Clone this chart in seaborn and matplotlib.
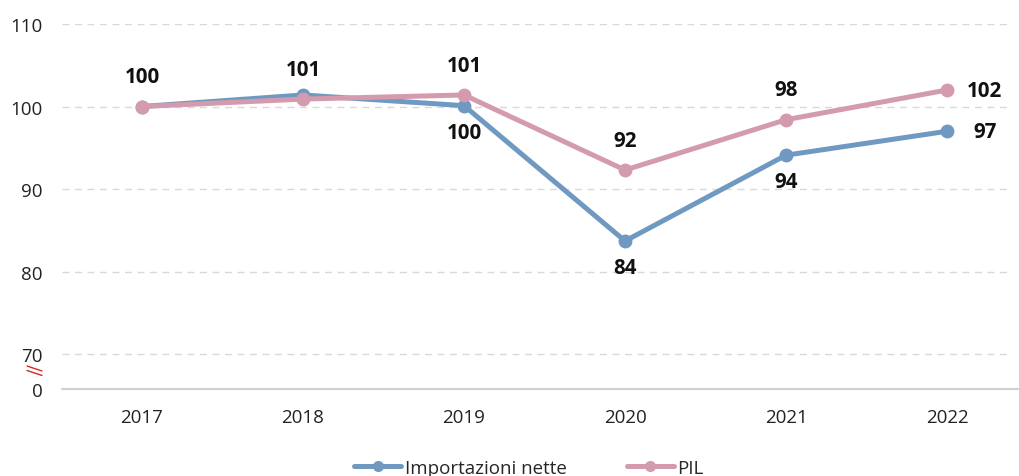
import pandas as pd
import matplotlib.pyplot as plt
import seaborn as sns

years = [2017, 2018, 2019, 2020, 2021, 2022]
importazioni = [100.0, 101.4, 100.1, 83.7, 94.1, 97.0]
pil = [100.0, 100.9, 101.4, 92.3, 98.4, 102.0]
series_names = ['Importazioni nette', 'PIL']
colors = {'Importazioni nette': '#7099c2', 'PIL': '#d39bad'}

y_ticks = [70, 80, 90, 100, 110]
y_zero = 65.76  # where the broken axis shows "0"

df = pd.DataFrame({
    'anno': years * 2,
    'valore': importazioni + pil,
    'serie': [series_names[0]] * len(years) + [series_names[1]] * len(years),
})

sns.set_style('white')
plt.rcParams['font.family'] = ['Open Sans', 'DejaVu Sans']

fig = plt.figure(figsize=(10.2, 4.77), dpi=100)
ax = fig.add_axes([62 / 1020, 87 / 477, 1 - 62 / 1020, (390 - 25) / 477])

# Grid lines
for t in y_ticks:
    ax.axhline(t, xmin=0, xmax=(1008 - 62) / (1020 - 62), color='#d9d9d9',
               lw=1, ls=(0, (5, 4)), zorder=0)
ax.axhline(y_zero, color='#d0d0d0', lw=1.5, zorder=1, clip_on=False)

sns.lineplot(data=df, x='anno', y='valore', hue='serie', palette=colors,
             marker='o', markersize=10, markeredgewidth=0, linewidth=3.6,
             ax=ax, legend=False, zorder=3)

# Data labels
lbl = dict(ha='center', va='center', fontsize=14.8, fontweight='bold', color='#111111')
for i, (yr, v) in enumerate(zip(years, pil)):
    if i == len(years) - 1:
        ax.annotate(f'{v:.0f}', (yr, v), xytext=(27, 0), textcoords='offset points', **lbl)
    else:
        ax.annotate(f'{v:.0f}', (yr, v), xytext=(0, 21.5), textcoords='offset points', **lbl)
for i, (yr, v) in enumerate(zip(years, importazioni)):
    if i < 2:
        continue
    if i == len(years) - 1:
        ax.annotate(f'{v:.0f}', (yr, v), xytext=(27, 0), textcoords='offset points', **lbl)
    else:
        ax.annotate(f'{v:.0f}', (yr, v), xytext=(0, -19), textcoords='offset points', **lbl)

ax.set_xlim(years[0] - 0.497, years[0] + 5.453)
ax.set_ylim(y_zero, 110)
ax.set_xticks(years)
ax.set_xticklabels([str(y) for y in years], fontsize=13.5, color='#222222')
ax.set_yticks([y_zero] + y_ticks)
ax.set_yticklabels(['0'] + [str(t) for t in y_ticks], fontsize=13.5, color='#222222')
ax.tick_params(axis='x', length=0, pad=14)
ax.tick_params(axis='y', length=0, pad=14)
ax.set_xlabel('')
ax.set_ylabel('')
for s in ax.spines.values():
    s.set_visible(False)

# Axis break mark
for dy in (0, 4.5):
    fig.add_artist(plt.Line2D([27 / 1020, 42 / 1020],
                              [(477 - 367 - dy) / 477, (477 - 372 - dy) / 477],
                              color='#d62728', lw=1, transform=fig.transFigure))

# Legend
handles = [plt.Line2D([], [], color=colors[n], lw=3.6, marker='o', markersize=8,
                      markeredgewidth=0) for n in series_names]
fig.legend(handles, series_names, loc='center', bbox_to_anchor=(529 / 1020, 8 / 477),
           ncol=2, frameon=False, fontsize=13.5, handlelength=2.5,
           handletextpad=0.2, columnspacing=3.2, borderaxespad=0, borderpad=0)

fig.savefig('out.png', dpi=100)
